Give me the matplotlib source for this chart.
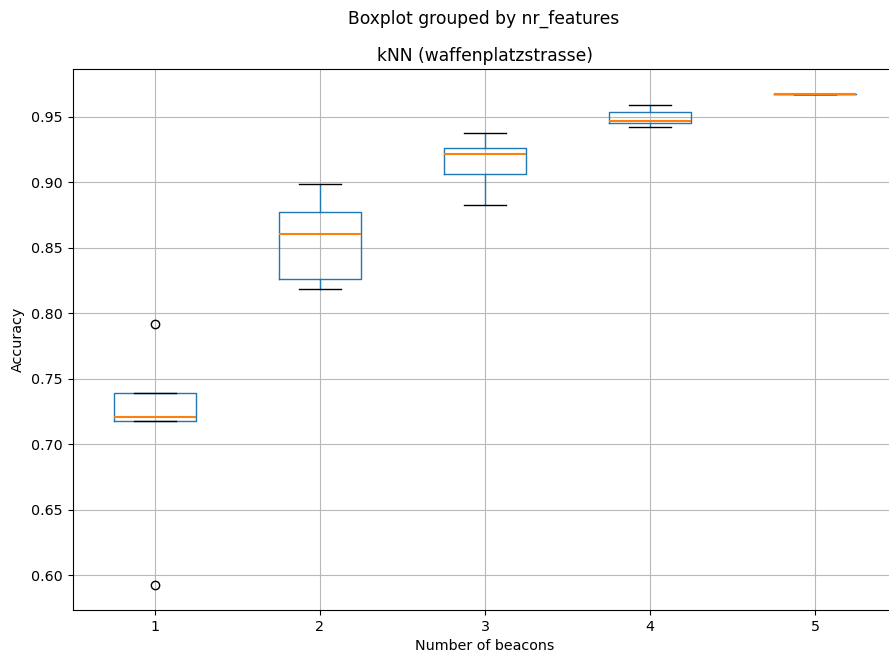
import matplotlib
matplotlib.use("Agg")
import matplotlib.pyplot as plt

positions = [1, 2, 3, 4, 5]
tick_labels = ["1", "2", "3", "4", "5"]
q1 = [0.7177, 0.8259, 0.9068, 0.9457, 0.9678]
med = [0.7208, 0.8603, 0.9218, 0.9470, 0.9678]
q3 = [0.7390, 0.8776, 0.9261, 0.9534, 0.9678]
whislo = [0.7177, 0.8188, 0.8824, 0.9426, 0.9678]
whishi = [0.7390, 0.8991, 0.9380, 0.9594, 0.9678]
fliers = [[0.792, 0.5924], [], [], [], []]

stats = []
for i in range(len(positions)):
    stats.append(dict(q1=q1[i], med=med[i], q3=q3[i], whislo=whislo[i],
                      whishi=whishi[i], fliers=fliers[i], label=tick_labels[i]))

plt.rcParams["font.size"] = 10.25
fig = plt.figure(figsize=(8.89, 6.6), dpi=100)
ax = fig.add_axes([72.5/889, 1 - 610/660, 825/889, (610 - 69)/660])

ax.bxp(stats, positions=positions, widths=0.5,
       boxprops=dict(color="#1f77b4"),
       whiskerprops=dict(color="#1f77b4"),
       capprops=dict(color="black"),
       medianprops=dict(color="#ff7f0e", linewidth=1.5),
       flierprops=dict(marker="o", markerfacecolor="none", markeredgecolor="black"))

ax.grid(True, color="#b8b8b8")
ax.set_axisbelow(True)
ax.set_xlim(0.5, 5.5)
ax.set_xlabel("Number of beacons")
ax.set_ylabel("Accuracy")
ax.set_title("kNN (waffenplatzstrasse)", pad=6, fontsize=12.35)
fig.suptitle("Boxplot grouped by nr_features", x=484/889, y=0.985, fontsize=12.3)

fig.savefig("out.png", dpi=100)
